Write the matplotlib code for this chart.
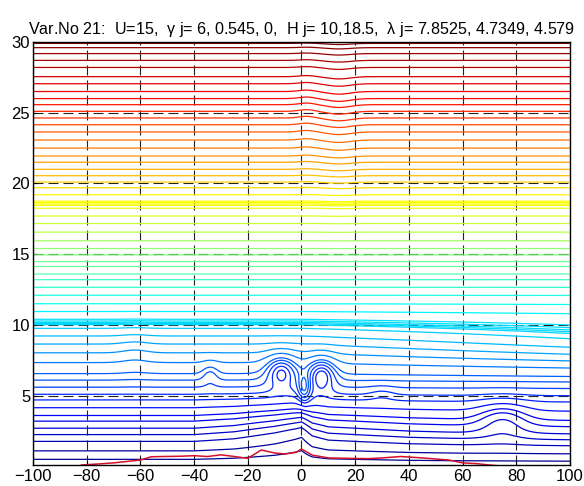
import numpy as np
import matplotlib.pyplot as plt
from matplotlib.colors import LinearSegmentedColormap

# undisturbed heights of the contour lines (read at x = -100)
line_heights = [0.5, 1.1, 1.77, 2.25, 2.7, 3.2, 3.6, 4.15, 4.7, 5.1, 5.6, 6.1,
                6.56, 7.34, 8.03, 8.65, 9.22, 9.76, 10.02, 10.1, 10.18, 10.28,
                10.4, 10.95, 11.5, 12.1, 12.66, 13.2, 13.6, 14.13, 14.48, 14.95,
                15.4, 15.95, 16.56, 17.17, 17.7, 18.25, 18.45, 18.55, 18.65,
                18.75, 19.2, 19.7, 20.1, 20.55, 21.0, 21.5, 21.94, 22.5, 23.07,
                23.64, 24.15, 24.63, 25.1, 25.57, 26.0, 26.5, 27.05, 27.55, 28.2,
                28.7, 29.18, 29.6, 29.9]

# local displacements of the lines: centre x, centre y, widths, lift
bump_x = [-7.5, 7.5, 1.0, -34, 2, 14, 75, -62, 30]
bump_y = [6.8, 6.6, 5.5, 6.6, 25, 25, 3.4, 8.0, 5.2]
bump_sx = [5.5, 5.0, 2.2, 3, 4, 6, 9, 6, 5]
bump_sy = [1.1, 1.1, 1.0, 0.8, 4, 5, 1.2, 1.5, 0.6]
bump_amp = [2.1, 2.1, -1.5, 0.6, 0.12, -0.2, 0.9, 0.2, 0.25]

# lift of the lowest lines along x (ridge at x = 0)
ridge_x = [-100, -40, -25, -10, -2, 0, 4, 10, 20, 40, 60, 100]
ridge_lift = [0, 0, 0.2, 0.6, 0.9, 1.0, 0.4, 0.1, 0, -0.2, -0.3, -0.4]

# bottom (red) line
bottom_x = [-82, -75, -70, -65, -60, -56, -52, -45, -40, -35, -30, -25, -20,
            -15, -10, -6, -2, 0, 4, 10, 18, 25, 30, 37, 45, 55, 60, 65, 70, 73]
bottom_y = [0.1, 0.18, 0.25, 0.35, 0.45, 0.68, 0.7, 0.72, 0.76, 0.7, 0.82,
            0.7, 0.57, 1.16, 0.95, 0.88, 1.0, 1.23, 0.8, 0.6, 0.57, 0.55, 0.6,
            0.7, 0.6, 0.45, 0.25, 0.2, 0.1, 0.05]

title = ("Var.No 21:  U=15,  $\\gamma$ j= 6, 0.545, 0,  H j= 10,18.5,  "
         "$\\lambda$ j= 7.8525, 4.7349, 4.579")

plt.rcParams['font.family'] = ['Liberation Sans', 'DejaVu Sans']
plt.rcParams['mathtext.fontset'] = 'custom'
plt.rcParams['mathtext.rm'] = 'Liberation Sans'
plt.rcParams['mathtext.it'] = 'Liberation Sans'

x = np.linspace(-100, 100, 401)
y = np.linspace(0, 30, 601)
X, Y = np.meshgrid(x, y)

D = np.zeros_like(X)
for bx, by, sx, sy, a in zip(bump_x, bump_y, bump_sx, bump_sy, bump_amp):
    D += a * np.exp(-((X - bx) / sx) ** 2 - ((Y - by) / sy) ** 2)
D += np.interp(X, ridge_x, ridge_lift) * np.exp(-((Y - 2.5) / 2.0) ** 2)
# lines between 6 and 10 sink towards the right
D += -0.8 * np.clip(X / 100, 0, 1) * np.exp(-((Y - 8.5) / 1.8) ** 2)
F = Y - D

# matlab style jet
jet = LinearSegmentedColormap.from_list('mjet', [
    (0, (0, 0, 0.5)), (0.125, (0, 0, 1)), (0.375, (0, 1, 1)),
    (0.625, (1, 1, 0)), (0.875, (1, 0, 0)), (1, (0.5, 0, 0))])

fig = plt.figure(figsize=(5.84, 4.86), dpi=100)
ax = fig.add_axes([0.0565, 0.0432, 0.9195, 0.8704])

colors = [jet(h / 30.0) for h in line_heights]
ax.contour(X, Y, F, levels=line_heights, colors=colors, linewidths=0.9)
ax.plot(bottom_x, bottom_y, color='#d4102a', lw=1.1)

ax.set_xlim(-100, 100)
ax.set_ylim(0.1, 30)
ax.set_xticks(np.arange(-100, 101, 20))
ax.set_yticks([5, 10, 15, 20, 25, 30])
ax.tick_params(direction='in', length=3, labelsize=12, width=0.8)
ax.tick_params(axis='x', pad=3)
ax.tick_params(axis='y', pad=2)
ax.grid(True, color='#222222', linestyle=(0, (9, 4.5)), linewidth=0.8)
for s in ax.spines.values():
    s.set_linewidth(1.0)
ax.set_title(title, fontsize=11.6, pad=6)

fig.savefig('out.png', dpi=100)
